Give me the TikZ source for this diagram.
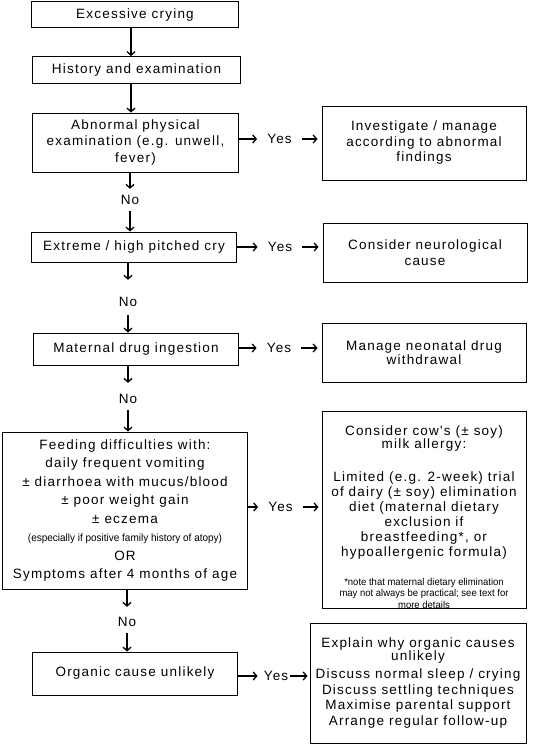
\documentclass[tikz,border=0pt]{standalone}
\usepackage{fontspec}
\setmainfont{Liberation Sans}[LetterSpace=9, Ligatures=TeXOff]
\newfontfamily\smallfont{Liberation Sans}[FakeStretch=0.95]
\usetikzlibrary{arrows.meta}
\tikzset{
  box/.style={draw=black, line width=1bp, inner sep=0pt, align=center,
    font=\fontsize{13.5bp}{16bp}\selectfont},
  txt/.style={inner sep=0pt, align=center, font=\fontsize{13.5bp}{15bp}\selectfont},
  nolbl/.style={inner sep=0pt, minimum height=22bp, font=\fontsize{13.5bp}{16bp}\selectfont},
  yeslbl/.style={inner ysep=0pt, inner xsep=10bp, font=\fontsize{13.5bp}{16bp}\selectfont},
  arr/.style={line width=1.3bp, -{Straight Barb[length=3.5bp,width=8bp,line width=1.3bp]}}
}
\begin{document}
\begin{tikzpicture}[x=1bp,y=-1bp]
\useasboundingbox (0,0) rectangle (540,747);
\coordinate (axa) at (131,0);
% left column
\node[box, minimum width=206bp, minimum height=26bp] (n1) at (135,15) {Excessive crying};
\node[box, minimum width=207bp, minimum height=27bp] (n2) at (136.5,70) {History and examination};
\node[box, minimum width=205bp, minimum height=59bp, font=\fontsize{13.5bp}{16.5bp}\selectfont] (n3) at (135.5,142.5)
  {Abnormal physical\\examination (e.g. unwell,\\fever)};
\node[box, minimum width=204bp, minimum height=30bp] (n4) at (134,247) {Extreme / high pitched cry};
\node[box, minimum width=204bp, minimum height=32bp] (n5) at (136,349) {Maternal drug ingestion};
\node[box, minimum width=244bp, minimum height=157bp, font=\fontsize{13.5bp}{18.5bp}\selectfont] (n6) at (125,510.5)
  {Feeding difficulties with:\\daily frequent vomiting\\± diarrhoea with mucus/blood\\± poor weight gain\\± eczema\\
   {\smallfont\fontsize{10.5bp}{12bp}\selectfont (especially if positive family history of atopy)}\\OR\\Symptoms after 4 months of age};
\node[box, minimum width=204bp, minimum height=43bp] (n7) at (135,673.5) {Organic cause unlikely};
% No labels
\node[nolbl] (no1) at (130,200) {No};
\node[nolbl] (no2) at (128,302) {No};
\node[nolbl] (no3) at (128,399) {No};
\node[nolbl] (no4) at (127,622) {No};
% right column
\node[box, minimum width=204bp, minimum height=74bp, font=\fontsize{13.5bp}{15.5bp}\selectfont] (r1) at (424,143)
  {Investigate / manage\\according to abnormal\\findings};
\node[box, minimum width=204bp, minimum height=59bp, font=\fontsize{13.5bp}{16bp}\selectfont] (r2) at (425,252.5)
  {Consider neurological\\cause};
\node[box, minimum width=204bp, minimum height=59bp, font=\fontsize{13.5bp}{14.5bp}\selectfont] (r3) at (424,352.5)
  {Manage neonatal drug\\withdrawal};
\node[box, minimum width=204bp, minimum height=197bp] (r4) at (424,509.5) {};
\node[txt, anchor=north] (r4t) at (424,426)
  {Consider cow's (± soy)\\[-2bp]milk allergy:\\[18bp]Limited (e.g. 2-week) trial\\of dairy (± soy) elimination\\diet (maternal dietary\\exclusion if\\breastfeeding*, or\\hypoallergenic formula)};
\node[inner sep=0pt, align=center, anchor=north, font=\smallfont\fontsize{10bp}{11.5bp}\selectfont] (r4n) at (424,578)
  {*note that maternal dietary elimination\\may not always be practical; see text for\\more details};
\node[box, minimum width=216bp, minimum height=120bp, font=\fontsize{13.5bp}{15.5bp}\selectfont] (r5) at (418,683)
  {Explain why organic causes\\[-3bp]unlikely\\[2.5bp]Discuss normal sleep / crying\\Discuss settling techniques\\Maximise parental support\\Arrange regular follow-up};
% Yes labels
\node[yeslbl] (y1) at (279.5,139) {Yes};
\node[yeslbl] (y2) at (280,247) {Yes};
\node[yeslbl] (y3) at (279,348) {Yes};
\node[yeslbl] (y4) at (280.5,507) {Yes};
\node[yeslbl, inner xsep=2bp] (y5) at (276,676) {Yes};
% vertical arrows
\draw[arr] (axa |- n1.south) -- (axa |- n2.north);
\draw[arr] (axa |- n2.south) -- (axa |- n3.north);
\draw[arr] (no1 |- n3.south) -- (no1.north);
\draw[arr] (no1.south) -- (no1 |- n4.north);
\draw[arr, shorten >=11bp] (no2 |- n4.south) -- (no2.north);
\draw[arr, shorten <=2bp] (no2.south) -- (no2 |- n5.north);
\draw[arr, shorten >=5bp] (no3 |- n5.south) -- (no3.north);
\draw[arr] (no3.south) -- (no3 |- n6.north);
\draw[arr, shorten >=4bp] (no4 |- n6.south) -- (no4.north);
\draw[arr] (no4.south) -- (no4 |- n7.north);
% horizontal arrows
\draw[arr] (n3.east |- y1) -- (y1.west);
\draw[arr, shorten >=4bp] (y1.east) -- (r1.west |- y1);
\draw[arr] (n4.east |- y2) -- (y2.west);
\draw[arr, shorten >=4bp] (y2.east) -- (r2.west |- y2);
\draw[arr] (n5.east |- y3) -- (y3.west);
\draw[arr, shorten >=4bp] (y3.east) -- (r3.west |- y3);
\draw[arr] (n6.east |- y4) -- (y4.west);
\draw[arr, shorten >=3bp] (y4.east) -- (r4.west |- y4);
\draw[arr, shorten >=4bp] (n7.east |- y5) -- (y5.west);
\draw[arr, shorten >=2bp] (y5.east) -- (r5.west |- y5);
\end{tikzpicture}
\end{document}
